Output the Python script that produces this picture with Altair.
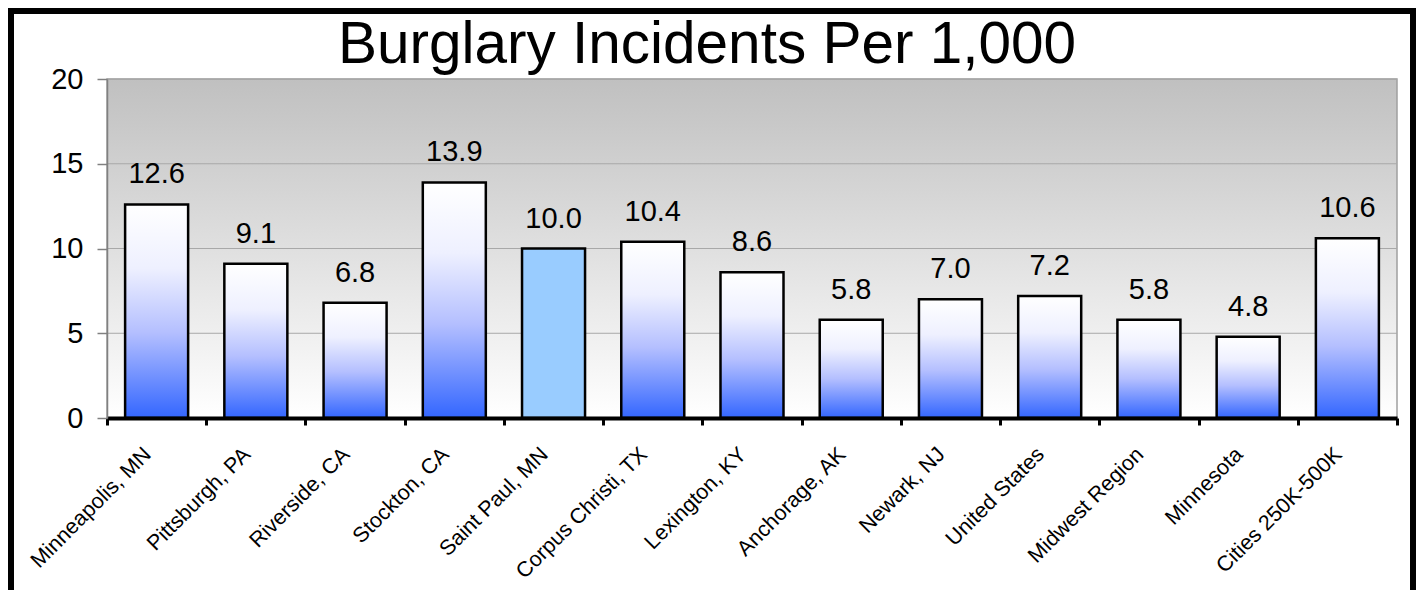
import altair as alt
import pandas as pd

names = ["Minneapolis, MN", "Pittsburgh, PA", "Riverside, CA", "Stockton, CA",
         "Saint Paul, MN", "Corpus Christi, TX", "Lexington, KY", "Anchorage, AK",
         "Newark, NJ", "United States", "Midwest Region", "Minnesota",
         "Cities 250K-500K"]
values = [12.6, 9.1, 6.8, 13.9, 10.0, 10.4, 8.6, 5.8, 7.0, 7.2, 5.8, 4.8, 10.6]
highlight = "Saint Paul, MN"
y_ticks = [0, 5, 10, 15, 20]
grid_vals = [5, 10, 15, 20]

W, H = 1290, 339
FONT = "Liberation Sans"

df = pd.DataFrame({"name": names, "value": values})
grid_df = pd.DataFrame({"g": grid_vals})

bar_grad = {
    "gradient": "linear", "x1": 0, "y1": 0, "x2": 0, "y2": 1,
    "stops": [
        {"offset": 0.0, "color": "#ffffff"},
        {"offset": 0.3, "color": "#eef0ff"},
        {"offset": 0.6, "color": "#b4bfff"},
        {"offset": 1.0, "color": "#3366ff"},
    ],
}
bg_grad = {
    "gradient": "linear", "x1": 0, "y1": 0, "x2": 0, "y2": 1,
    "stops": [
        {"offset": 0.0, "color": "#c0c0c0"},
        {"offset": 1.0, "color": "#ffffff"},
    ],
}

xenc = alt.X(
    "name:N", sort=names, title=None,
    scale=alt.Scale(paddingInner=0, paddingOuter=0),
    axis=alt.Axis(labelAngle=-45, labelAlign="right", labelBaseline="middle",
                  labelFont=FONT, labelFontSize=21.5, labelColor="black",
                  labelPadding=26, labelOffset=-9, tickBand="extent",
                  tickColor="black", tickWidth=3, tickSize=7,
                  domainColor="black", domainWidth=4, zindex=1),
)
yenc = alt.Y(
    "value:Q", title=None,
    scale=alt.Scale(domain=[0, 20], nice=False),
    axis=alt.Axis(values=y_ticks, grid=False, labelFont=FONT, labelFontSize=29,
                  labelColor="black", labelPadding=14, tickColor="#808080",
                  tickSize=10, tickWidth=1.5, domainColor="#808080",
                  domainWidth=1.5, zindex=1),
)

background = alt.Chart(pd.DataFrame({"a": [0]})).mark_rect(
    color=bg_grad, stroke="#a0a0a0", strokeWidth=1.5
).encode(x=alt.value(0), x2=alt.value(W), y=alt.value(0), y2=alt.value(H))

frame = alt.Chart(pd.DataFrame({"a": [0]})).mark_rect(
    fillOpacity=0, stroke="black", strokeWidth=6
).encode(x=alt.value(-96), x2=alt.value(1306), y=alt.value(-68), y2=alt.value(530))

grid = alt.Chart(grid_df).mark_rule(color="#a8a8a8", strokeWidth=1).encode(
    y=alt.Y("g:Q", scale=alt.Scale(domain=[0, 20], nice=False))
)

band = alt.RelativeBandSize(0.635)

bars = alt.Chart(df).transform_filter(alt.datum.name != highlight).mark_bar(
    color=bar_grad, stroke="black", strokeWidth=2.5, width=band
).encode(x=xenc, y=yenc)

hbar = alt.Chart(df).transform_filter(alt.datum.name == highlight).mark_bar(
    color="#99ccff", stroke="black", strokeWidth=2.5, width=band
).encode(x=alt.X("name:N", sort=names), y=alt.Y("value:Q"))

labels = alt.Chart(df).mark_text(
    baseline="alphabetic", dy=-21, font=FONT, fontSize=29, color="black"
).encode(x=alt.X("name:N", sort=names), y=alt.Y("value:Q"),
         text=alt.Text("value:Q", format=".1f"))

chart = alt.layer(background, grid, bars, hbar, labels, frame).properties(
    width=W, height=H,
    title=alt.TitleParams("Burglary Incidents Per 1,000", font=FONT, fontSize=58.5,
                          fontWeight="normal", color="black", anchor="middle",
                          dx=-45, dy=71, offset=4),
    autosize=alt.AutoSizeParams(type="none"),
    padding={"left": 99, "top": 71, "right": 19, "bottom": 172},
).configure_view(stroke=None)

chart.save("out.html", embed_options={"renderer": "svg", "actions": False})
